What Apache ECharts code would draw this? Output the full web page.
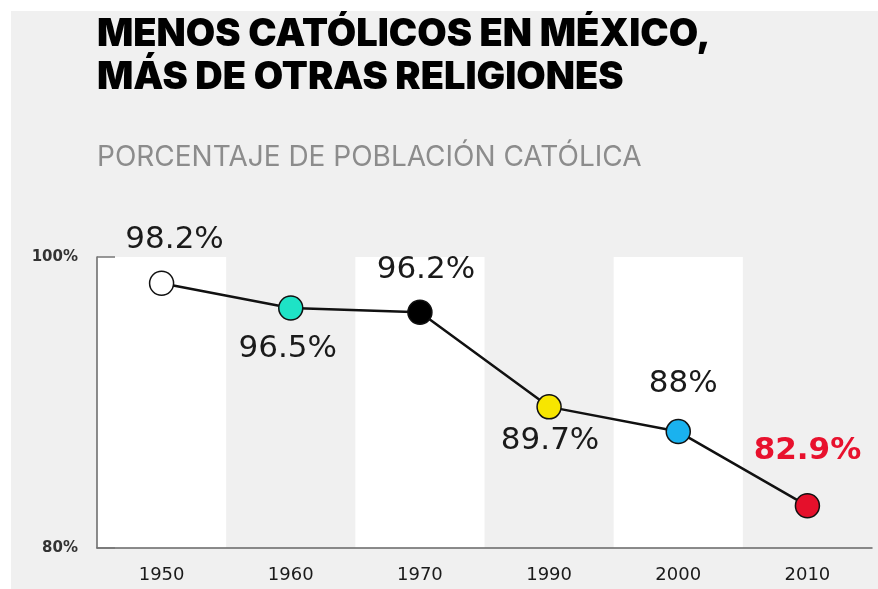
<!DOCTYPE html>
<html lang="es">
<head>
    <meta charset="UTF-8">
    <title>Menos católicos en México</title>
    <script src="https://cdn.jsdelivr.net/npm/echarts@6/dist/echarts.min.js"></script>
    <style>
        body { margin: 0; background: #ffffff; }
        #chart { position: absolute; left: 11px; top: 11px; width: 867px; height: 578px; background: #f0f0f0; }
    </style>
</head>
<body>
<div id="chart"></div>
<script>
    'use strict';
    // datos
    const years = ['1950', '1960', '1970', '1990', '2000', '2010'];
    const catholicPct = [98.2, 96.5, 96.2, 89.7, 88, 82.9];
    const pctLabels = ['98.2%', '96.5%', '96.2%', '89.7%', '88%', '82.9%'];
    const yTicks = [80, 100];

    // estilos de cada punto
    const dotColors = ['#ffffff', '#1ee3c6', '#000000', '#f7e600', '#1ab2ef', '#e5102b'];
    const labelSide = ['top', 'bottom', 'top', 'bottom', 'top', 'top'];
    const labelShift = [[13, 0], [-3, -2], [6, 0], [1, -9], [5, -5], [0, -12]];

    let seriesData = [];
    for (let i = 0; i < catholicPct.length; i++) {
        let last = i === catholicPct.length - 1;
        seriesData.push({
            value: catholicPct[i],
            itemStyle: { color: dotColors[i] },
            label: {
                position: labelSide[i],
                offset: labelShift[i],
                color: last ? '#e8112d' : '#1a1a1a',
                fontWeight: last ? 'bold' : 'normal',
                formatter: pctLabels[i]
            }
        });
    }

    let myChart = echarts.init(document.getElementById('chart'));
    let option = {
        backgroundColor: 'transparent',
        animation: false,
        title: [{
            text: 'MENOS CATÓLICOS EN MÉXICO,\nMÁS DE OTRAS RELIGIONES',
            left: 86,
            top: 2.5,
            padding: 0,
            textStyle: { fontFamily: 'Inter', fontWeight: 900, fontSize: 38, lineHeight: 43, color: '#000000' }
        }, {
            text: 'PORCENTAJE DE POBLACIÓN CATÓLICA',
            left: 86,
            top: 131.5,
            padding: 0,
            textStyle: { fontFamily: 'Inter', fontWeight: 'normal', fontSize: 28, lineHeight: 30, color: '#8c8c8c' }
        }],
        grid: { left: 86, top: 246, right: 6, bottom: 41 },
        xAxis: {
            type: 'category',
            data: years,
            boundaryGap: true,
            axisLine: { lineStyle: { color: '#666666', width: 1.5 } },
            axisTick: { inside: true, length: 6, lineStyle: { color: '#666666', width: 1.5 } },
            axisLabel: { margin: 18, fontFamily: 'DejaVu Sans', fontSize: 18, color: '#1a1a1a' },
            splitArea: { show: true, areaStyle: { color: ['#ffffff', 'rgba(0,0,0,0)'] } }
        },
        yAxis: {
            type: 'value',
            min: yTicks[0],
            max: yTicks[1],
            interval: yTicks[1] - yTicks[0],
            axisLine: { show: true, lineStyle: { color: '#666666', width: 1.5 } },
            axisTick: { show: true, inside: true, length: 18, lineStyle: { color: '#777777', width: 1.5 } },
            splitLine: { show: false },
            axisLabel: {
                margin: 19,
                formatter: '{value}%',
                fontFamily: 'DejaVu Sans',
                fontWeight: 'bold',
                fontSize: 15,
                color: '#333333'
            }
        },
        series: [{
            type: 'line',
            data: seriesData,
            symbol: 'circle',
            symbolSize: 24,
            lineStyle: { color: '#111111', width: 2.5 },
            itemStyle: { borderColor: '#111111', borderWidth: 1.5 },
            label: {
                show: true,
                distance: 14,
                fontFamily: 'DejaVu Sans',
                fontSize: 31,
                lineHeight: 32
            },
            emphasis: { disabled: true }
        }]
    };
    myChart.setOption(option);
</script>
</body>
</html>
